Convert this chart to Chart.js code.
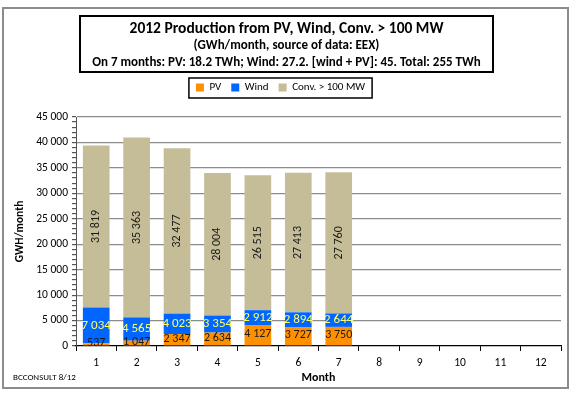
<!DOCTYPE html>
<html>
<head>
<meta charset="utf-8">
<script src="https://cdn.jsdelivr.net/npm/chart.js@4.4.1/dist/chart.umd.min.js"></script>
<style>
  body { margin: 0; background: #fff; font-family: Carlito, Lato, sans-serif; }
  #wrap { position: relative; width: 571px; height: 396px; overflow: hidden; }
  #frame { position: absolute; left: 2px; top: 7px; width: 563px; height: 378px; border: 2px solid #8c8c8c; }
  #chart { position: absolute; left: 0; top: 0; }
  #title { position: absolute; left: 79px; top: 15px; width: 411px; height: 52px; border: 2px solid #000;
           text-align: center; font-weight: bold; color: #000; padding-top: 2px; box-sizing: content-box;
           white-space: nowrap; }
  #title .l1 { font-size: 15.5px; line-height: 18px; }
  #title .l2 { font-size: 13px; line-height: 16px; }
  #title .l3 { font-size: 13px; line-height: 17px; }
  #credit { position: absolute; left: 13px; top: 371px; font-size: 9px; color: #000; }
</style>
</head>
<body>
<div id="wrap">
  <div id="frame"></div>
  <canvas id="chart" width="571" height="396"></canvas>
  <div id="title">
    <div class="l1">2012 Production from PV, Wind, Conv. &gt; 100 MW</div>
    <div class="l2">(GWh/month, source of data: EEX)</div>
    <div class="l3">On 7 months: PV: 18.2 TWh; Wind: 27.2. [wind + PV]: 45. Total: 255 TWh</div>
  </div>
  <div id="credit">BCCONSULT 8/12</div>
</div>
<script>
const months = ['1', '2', '3', '4', '5', '6', '7', '8', '9', '10', '11', '12'];
const pv = [537, 1047, 2347, 2634, 4127, 3727, 3750];
const wind = [7034, 4565, 4023, 3354, 2912, 2894, 2644];
const conv = [31819, 35363, 32477, 28004, 26515, 27413, 27760];
const yMax = 45000;
const yMajor = 5000;
const yMinor = 1000;

const FONT = 'Carlito, Lato, sans-serif';

function fmt(v) {
  return String(v).replace(/\B(?=(\d{3})+(?!\d))/g, ' ');
}

// numbers written inside the bars
const barLabels = {
  id: 'barLabels',
  afterDatasetsDraw(chart) {
    const ctx = chart.ctx;
    chart.data.datasets.forEach((ds, i) => {
      const meta = chart.getDatasetMeta(i);
      meta.data.forEach((bar, j) => {
        const v = ds.data[j];
        if (v == null) return;
        const y = (bar.y + bar.base) / 2;
        ctx.save();
        ctx.font = ds.labelSize + 'px ' + FONT;
        ctx.fillStyle = ds.labelColor;
        ctx.textAlign = 'center';
        ctx.textBaseline = 'middle';
        ctx.translate(bar.x, y + (ds.labelShift || 0));
        if (ds.labelRotate) ctx.rotate(-Math.PI / 2);
        ctx.fillText(fmt(v), 0, 0);
        ctx.restore();
      });
    });
  }
};

// black frame round the legend + extra room under it
const legendFrame = {
  id: 'legendFrame',
  afterInit(chart) {
    const lg = chart.legend;
    const fit = lg.fit.bind(lg);
    lg.fit = function () { fit(); this.height += 14; };
  },
  afterDraw(chart) {
    const hb = chart.legend.legendHitBoxes;
    if (!hb || !hb.length) return;
    const left = Math.min(...hb.map(b => b.left)) - 7;
    const right = Math.max(...hb.map(b => b.left + b.width)) + 7;
    const top = hb[0].top - 4;
    const bottom = hb[0].top + hb[0].height + 5;
    const ctx = chart.ctx;
    ctx.save();
    ctx.strokeStyle = '#000';
    ctx.lineWidth = 1.5;
    ctx.strokeRect(left, top, right - left, bottom - top);
    ctx.restore();
  }
};

new Chart(document.getElementById('chart'), {
  type: 'bar',
  data: {
    labels: months,
    datasets: [
      {
        label: 'PV',
        data: pv,
        backgroundColor: '#ff9000',
        labelColor: '#1a1a1a', labelSize: 12, labelShift: -1
      },
      {
        label: 'Wind',
        data: wind,
        backgroundColor: '#0066ff',
        labelColor: '#ffff66', labelSize: 13
      },
      {
        label: 'Conv. > 100 MW',
        data: conv,
        backgroundColor: '#c4bd97',
        labelColor: '#1a1a1a', labelSize: 12, labelRotate: true
      }
    ]
  },
  options: {
    responsive: false,
    animation: false,
    devicePixelRatio: 1,
    datasets: { bar: { barPercentage: 0.66, categoryPercentage: 1 } },
    layout: { padding: { top: 72, right: 10, bottom: 0, left: 0 } },
    plugins: {
      tooltip: { enabled: false },
      legend: {
        position: 'top',
        labels: {
          boxWidth: 8, boxHeight: 8, padding: 10,
          color: '#000', font: { family: FONT, size: 11 }
        }
      }
    },
    scales: {
      x: {
        stacked: true,
        afterFit: s => { s.height = 50; },
        border: { color: '#000', width: 1.2 },
        grid: { drawOnChartArea: false, offset: true, tickLength: 5, tickColor: '#000' },
        ticks: { color: '#000', padding: 5, font: { family: FONT, size: 11.5 } },
        title: {
          display: true, text: 'Month', color: '#000',
          font: { family: FONT, size: 12, weight: 'bold' },
          padding: { top: 0, bottom: 11 }
        }
      },
      y: {
        stacked: true,
        min: 0,
        max: yMax,
        afterFit: s => { s.width = 76; },
        border: { color: '#555', width: 1 },
        grid: {
          color: c => (c.tick && c.tick.value % yMajor === 0 && c.tick.value > 0) ? '#8c8c8c' : 'rgba(0,0,0,0)',
          lineWidth: 1.2,
          tickColor: '#555',
          tickLength: 4
        },
        ticks: {
          stepSize: yMinor,
          autoSkip: false,
          color: '#000',
          padding: 4,
          font: { family: FONT, size: 11.5 },
          callback: v => v % yMajor === 0 ? fmt(v) : ''
        },
        title: {
          display: true, text: 'GWH/month', color: '#000',
          font: { family: FONT, size: 11.5, weight: 'bold' },
          padding: { top: 13, bottom: 0 }
        }
      }
    }
  },
  plugins: [barLabels, legendFrame]
});
</script>
</body>
</html>
